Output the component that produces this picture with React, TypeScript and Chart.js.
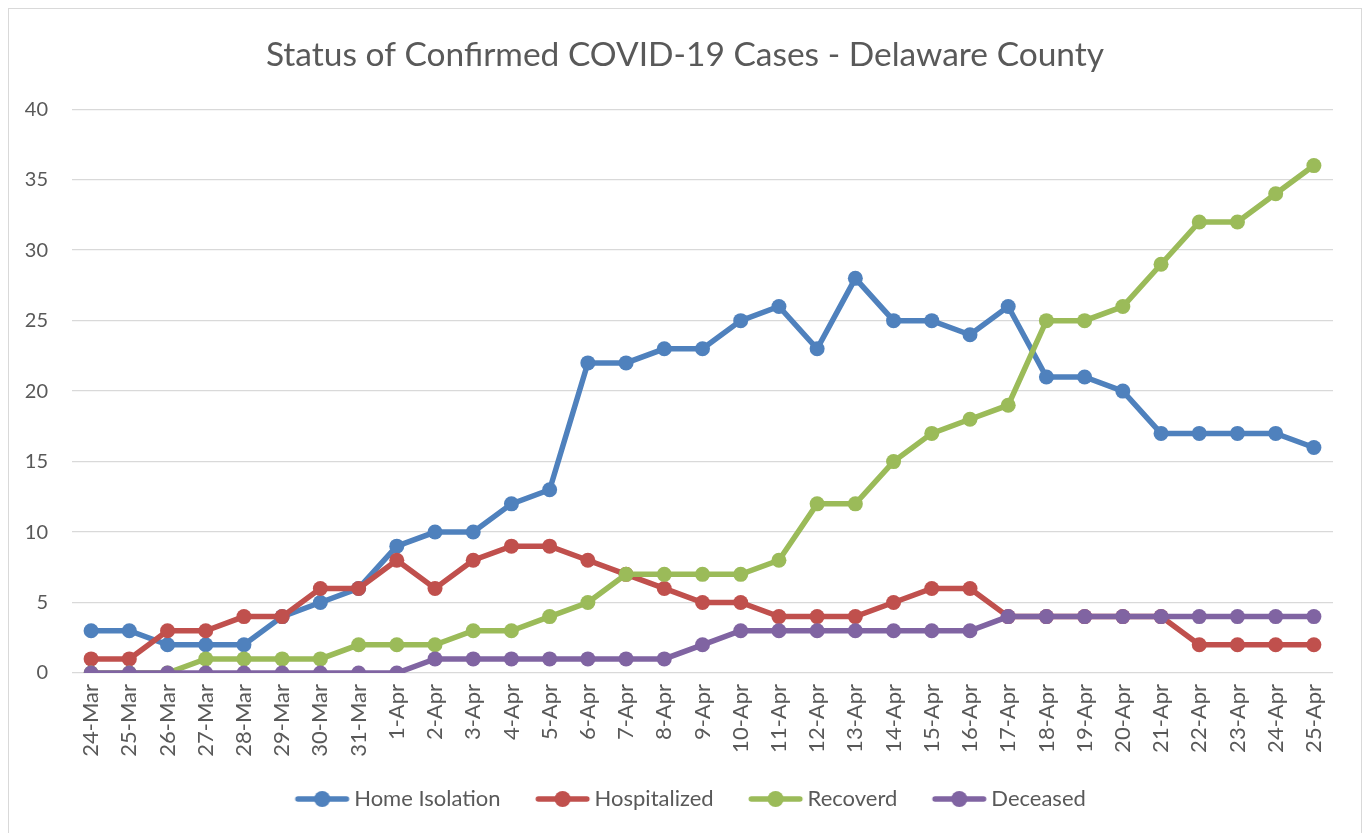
import React, { useEffect, useRef } from "react";
import { Chart, registerables } from "chart.js";

Chart.register(...registerables);

const chartTitle = "Status of Confirmed COVID-19 Cases - Delaware County";

const categories = [
  "24-Mar", "25-Mar", "26-Mar", "27-Mar", "28-Mar", "29-Mar", "30-Mar", "31-Mar",
  "1-Apr", "2-Apr", "3-Apr", "4-Apr", "5-Apr", "6-Apr", "7-Apr", "8-Apr", "9-Apr",
  "10-Apr", "11-Apr", "12-Apr", "13-Apr", "14-Apr", "15-Apr", "16-Apr", "17-Apr",
  "18-Apr", "19-Apr", "20-Apr", "21-Apr", "22-Apr", "23-Apr", "24-Apr", "25-Apr",
];

const homeIsolation = [3, 3, 2, 2, 2, 4, 5, 6, 9, 10, 10, 12, 13, 22, 22, 23, 23, 25, 26, 23, 28, 25, 25, 24, 26, 21, 21, 20, 17, 17, 17, 17, 16];
const hospitalized = [1, 1, 3, 3, 4, 4, 6, 6, 8, 6, 8, 9, 9, 8, 7, 6, 5, 5, 4, 4, 4, 5, 6, 6, 4, 4, 4, 4, 4, 2, 2, 2, 2];
const recoverd = [0, 0, 0, 1, 1, 1, 1, 2, 2, 2, 3, 3, 4, 5, 7, 7, 7, 7, 8, 12, 12, 15, 17, 18, 19, 25, 25, 26, 29, 32, 32, 34, 36];
const deceased = [0, 0, 0, 0, 0, 0, 0, 0, 0, 1, 1, 1, 1, 1, 1, 1, 2, 3, 3, 3, 3, 3, 3, 3, 4, 4, 4, 4, 4, 4, 4, 4, 4];

const seriesNames = ["Home Isolation", "Hospitalized", "Recoverd", "Deceased"];
const seriesColors = ["#4F81BD", "#C0504D", "#9BBB59", "#8064A2"];

const yMin = 0;
const yMax = 40;
const yStep = 5;

const FONT = "Lato, 'Open Sans', sans-serif";
const TEXT = "#595959";
const GRID = "#D9D9D9";

// legend marker: image is centred on the legend box; the visible line is shifted right
function makeLegendMarker(color: string): HTMLCanvasElement {
  const c = document.createElement("canvas");
  c.width = 78;
  c.height = 20;
  const ctx = c.getContext("2d")!;
  const lw = 5.5;
  ctx.strokeStyle = color;
  ctx.lineWidth = lw;
  ctx.lineCap = "round";
  ctx.beginPath();
  ctx.moveTo(20.5 + lw / 2, 10);
  ctx.lineTo(74.5 - lw / 2, 10);
  ctx.stroke();
  ctx.fillStyle = color;
  ctx.beginPath();
  ctx.arc(47.5, 10, 8, 0, Math.PI * 2);
  ctx.fill();
  return c;
}

export default function App() {
  const canvasRef = useRef<HTMLCanvasElement | null>(null);

  useEffect(() => {
    const canvas = canvasRef.current;
    if (!canvas) return;
    const seriesData = [homeIsolation, hospitalized, recoverd, deceased];
    const markers = seriesColors.map(makeLegendMarker);

    const chart = new Chart(canvas, {
      type: "line",
      data: {
        labels: categories,
        datasets: seriesData.map((d, i) => ({
          label: seriesNames[i],
          data: d,
          yAxisID: "y",
          borderColor: seriesColors[i],
          backgroundColor: seriesColors[i],
          pointBackgroundColor: seriesColors[i],
          pointBorderColor: seriesColors[i],
          borderWidth: 5.5,
          pointRadius: 7.5,
          pointHoverRadius: 7.5,
          pointBorderWidth: 0,
          tension: 0,
          fill: false,
          order: seriesData.length - i,
        })),
      },
      options: {
        animation: false,
        responsive: false,
        maintainAspectRatio: false,
        layout: { padding: { left: 0, right: 0, top: 0, bottom: 13 } },
        plugins: {
          tooltip: { enabled: false },
          title: {
            display: true,
            text: chartTitle,
            color: TEXT,
            font: { family: FONT, size: 33.5, weight: "normal" },
            padding: { top: 26, bottom: 34 },
          },
          legend: {
            display: true,
            position: "bottom",
            labels: {
              usePointStyle: true,
              pointStyleWidth: 59,
              color: TEXT,
              font: { family: FONT, size: 22 },
              padding: 24,
              sort: (a: any, b: any) => a.datasetIndex - b.datasetIndex,
              generateLabels: (ch: any) => {
                const items = Chart.defaults.plugins.legend.labels.generateLabels(ch);
                return items.map((it: any) => ({ ...it, pointStyle: markers[it.datasetIndex] }));
              },
            },
          },
        },
        scales: {
          x: {
            type: "category",
            offset: true,
            grid: { display: false, drawTicks: false },
            border: { display: false },
            ticks: {
              color: TEXT,
              font: { family: FONT, size: 22 },
              minRotation: 90,
              maxRotation: 90,
              autoSkip: false,
              padding: 11,
            },
            afterFit: (scale: any) => {
              scale.height = 91;
            },
          },
          y: {
            position: "left",
            min: yMin,
            max: yMax,
            grid: { color: GRID, lineWidth: 1.3, drawTicks: false },
            border: { display: false },
            ticks: {
              stepSize: yStep,
              color: TEXT,
              font: { family: FONT, size: 20 },
              padding: 24,
            },
            afterFit: (scale: any) => {
              scale.width = 63;
            },
          },
          yRightSpace: {
            type: "linear",
            position: "right",
            display: true,
            grid: { display: false, drawTicks: false },
            border: { display: false },
            ticks: { display: false },
            afterFit: (scale: any) => {
              scale.width = 28;
            },
          },
        },
      },
    });
    return () => chart.destroy();
  }, []);

  return (
    <div
      style={{
        position: "absolute",
        left: 8,
        top: 8,
        width: 1352,
        height: 824,
        border: "1px solid #D9D9D9",
        borderBottom: "none",
        background: "#fff",
      }}
    >
      <canvas ref={canvasRef} width={1352} height={824} style={{ display: "block" }} />
    </div>
  );
}
